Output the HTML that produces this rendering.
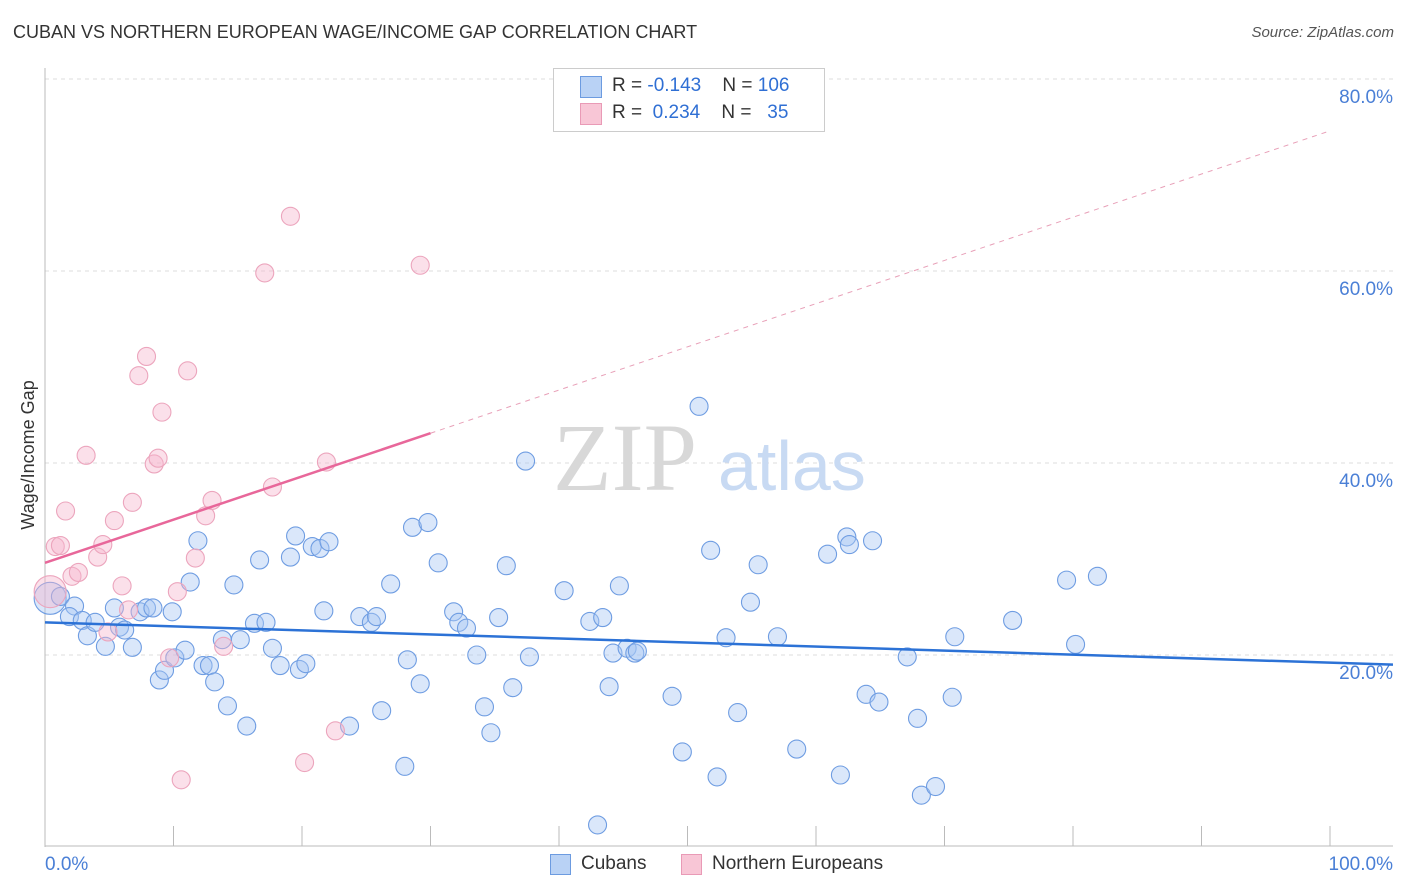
<!DOCTYPE html>
<html><head><meta charset="utf-8"><style>
body{margin:0;background:#fff;font-family:"Liberation Sans",sans-serif;}
#wrap{position:relative;width:1406px;height:892px;overflow:hidden;}
.t{position:absolute;white-space:nowrap;}
</style></head><body>
<div id="wrap">
<div class="t" style="left:13px;top:22px;font-size:18px;color:#333;">CUBAN VS NORTHERN EUROPEAN WAGE/INCOME GAP CORRELATION CHART</div>
<div class="t" style="right:12px;top:24px;font-size:15px;color:#555;font-style:italic;">Source: ZipAtlas.com</div>
<svg id="plot" width="1406" height="892" style="position:absolute;left:0;top:0"></svg>
</div>
<script>
const blueX=[0.4,1.2,2.3,1.9,2.9,3.3,3.9,4.7,5.4,5.8,6.2,6.8,7.4,7.9,8.4,8.9,9.3,9.9,10.1,10.9,11.3,11.9,12.3,12.8,13.2,13.8,14.2,14.7,15.2,15.7,16.3,16.7,17.2,17.7,18.3,19.1,19.5,19.8,20.3,20.8,21.4,21.7,22.1,23.7,24.5,25.4,25.8,26.2,26.9,28.0,28.2,28.6,29.2,29.8,30.6,31.8,32.2,32.8,33.6,34.2,34.7,35.3,35.9,36.4,37.4,37.7,40.4,42.4,43.0,43.4,43.9,44.2,44.7,45.3,45.9,46.1,48.8,49.6,50.9,51.8,52.3,53.0,53.9,54.9,55.5,57.0,58.5,60.9,61.9,62.4,62.6,63.9,64.4,64.9,67.1,67.9,68.2,69.3,70.6,70.8,75.3,79.5,80.2,81.9];
const blueY=[25.9,26.1,25.1,24.0,23.6,22.0,23.4,20.9,24.9,22.9,22.6,20.8,24.5,24.9,24.9,17.4,18.4,24.5,19.7,20.5,27.6,31.9,18.9,18.9,17.2,21.6,14.7,27.3,21.6,12.6,23.3,29.9,23.4,20.7,18.9,30.2,32.4,18.5,19.1,31.3,31.1,24.6,31.8,12.6,24.0,23.4,24.0,14.2,27.4,8.4,19.5,33.3,17.0,33.8,29.6,24.5,23.4,22.8,20.0,14.6,11.9,23.9,29.3,16.6,40.2,19.8,26.7,23.5,2.3,23.9,16.7,20.2,27.2,20.7,20.2,20.4,15.7,9.9,45.9,30.9,7.3,21.8,14.0,25.5,29.4,21.9,10.2,30.5,7.5,32.3,31.5,15.9,31.9,15.1,19.8,13.4,5.4,6.3,15.6,21.9,23.6,27.8,21.1,28.2];
const pinkX=[0.4,0.8,1.2,1.6,2.1,2.6,3.2,4.1,4.5,4.9,5.4,6.0,6.5,6.8,7.3,7.9,8.5,8.8,9.1,9.7,10.3,10.6,11.1,11.7,12.5,13.0,13.9,17.1,17.7,19.1,20.2,21.9,22.6,29.2];
const pinkY=[26.6,31.3,31.4,35.0,28.2,28.6,40.8,30.2,31.5,22.4,34.0,27.2,24.7,35.9,49.1,51.1,39.9,40.5,45.3,19.7,26.6,7.0,49.6,30.1,34.5,36.1,20.9,59.8,37.5,65.7,8.8,40.1,12.1,60.6];
const blueTrend=[23.4,19.2]; // value at x=0 and x=100
const pinkTrend=[29.6,74.6];
const yTicks=[20,40,60,80];
const xTickLabels=["0.0%","100.0%"];

const X=v=>45+v*12.85, Y=v=>847-v*9.6;
const svg=document.getElementById('plot');
const NS='http://www.w3.org/2000/svg';
function mk(tag,attrs){const e=document.createElementNS(NS,tag);for(const k in attrs)e.setAttribute(k,attrs[k]);svg.appendChild(e);return e;}
yTicks.forEach(t=>{
  const g=mk('line',{x1:45,x2:1393,y1:Y(t),y2:Y(t),stroke:'#ddd','stroke-dasharray':'4,4'});
  
  
  const tx=mk('text',{x:1393,y:Y(t)+24,'text-anchor':'end','font-size':19,fill:'#4a7fd6','font-family':'Liberation Sans, sans-serif'});
  tx.textContent=t.toFixed(1)+'%';
  
  
});
let a=mk('line',{x1:45,x2:45,y1:68,y2:847,stroke:'#bbb'});


a=mk('line',{x1:45,x2:1393,y1:846,y2:846,stroke:'#bbb'});


for(let i=0;i<=10;i++){const l=mk('line',{x1:X(i*10),x2:X(i*10),y1:826,y2:846,stroke:'#bbb'});
  
  }
let xl=mk('text',{x:45,y:870,'font-size':19,fill:'#4a7fd6','font-family':'Liberation Sans, sans-serif'});xl.textContent=xTickLabels[0];


xl=mk('text',{x:1393,y:870,'text-anchor':'end','font-size':19,fill:'#4a7fd6','font-family':'Liberation Sans, sans-serif'});xl.textContent=xTickLabels[1];


let yt=mk('text',{x:0,y:0,transform:'translate(34,455) rotate(-90)','text-anchor':'middle','font-size':18,fill:'#333','font-family':'Liberation Sans, sans-serif'});yt.textContent='Wage/Income Gap';


let w=mk('text',{x:553,y:490,'font-size':96,fill:'#d8d8d8','font-family':'Liberation Serif, serif'});w.textContent='ZIP';


w=mk('text',{x:718,y:490,'font-size':70,fill:'#c8daf3','font-family':'Liberation Sans, sans-serif'});w.textContent='atlas';


function pts(xs,ys,fill,stroke,name){
  xs.forEach((x,i)=>{const c=mk('circle',{cx:X(x),cy:Y(ys[i]),r:i===0?16:9,fill:fill,stroke:stroke,'stroke-width':1.1});
    
    });
}
pts(blueX,blueY,'rgba(166,198,242,0.42)','#6f9de2','cubans-point');
pts(pinkX,pinkY,'rgba(246,182,204,0.42)','#eca5bd','northern-europeans-point');
let tl=mk('line',{x1:X(0),y1:Y(blueTrend[0]),x2:X(104.9),y2:Y(blueTrend[0]+(blueTrend[1]-blueTrend[0])*1.049),stroke:'#2c72d6','stroke-width':2.5});


const pAt=v=>pinkTrend[0]+(pinkTrend[1]-pinkTrend[0])*v/100;
tl=mk('line',{x1:X(0),y1:Y(pAt(0)),x2:X(30),y2:Y(pAt(30)),stroke:'#e8679a','stroke-width':2.5});


tl=mk('line',{x1:X(30),y1:Y(pAt(30)),x2:X(100),y2:Y(pAt(100)),stroke:'#e8a0b8','stroke-width':1,'stroke-dasharray':'5,5'});


</script>
<div class="t" style="left:553px;top:68px;width:270px;height:62px;border:1px solid #ccc;background:#fff;">
 <div class="t" style="left:26px;top:7px;width:20px;height:20px;background:#b9d2f5;border:1px solid #6c9be0;"></div>
 <div class="t" style="left:58px;top:6px;font-size:19px;color:#333;">R = <span style="color:#2f6fd4">-0.143</span>&nbsp;&nbsp;&nbsp; N = <span style="color:#2f6fd4">106</span></div>
 <div class="t" style="left:26px;top:34px;width:20px;height:20px;background:#f8c6d6;border:1px solid #e99ab6;"></div>
 <div class="t" style="left:58px;top:33px;font-size:19px;color:#333;">R = &nbsp;<span style="color:#2f6fd4">0.234</span>&nbsp;&nbsp;&nbsp; N = &nbsp;&nbsp;<span style="color:#2f6fd4">35</span></div>
</div>
<div class="t" style="left:550px;top:854px;width:19px;height:19px;background:#b9d2f5;border:1px solid #6c9be0;"></div>
<div class="t" style="left:581px;top:853px;font-size:19px;color:#333;">Cubans</div>
<div class="t" style="left:681px;top:854px;width:19px;height:19px;background:#f8c6d6;border:1px solid #e99ab6;"></div>
<div class="t" style="left:712px;top:853px;font-size:19px;color:#333;">Northern Europeans</div>
</body></html>
